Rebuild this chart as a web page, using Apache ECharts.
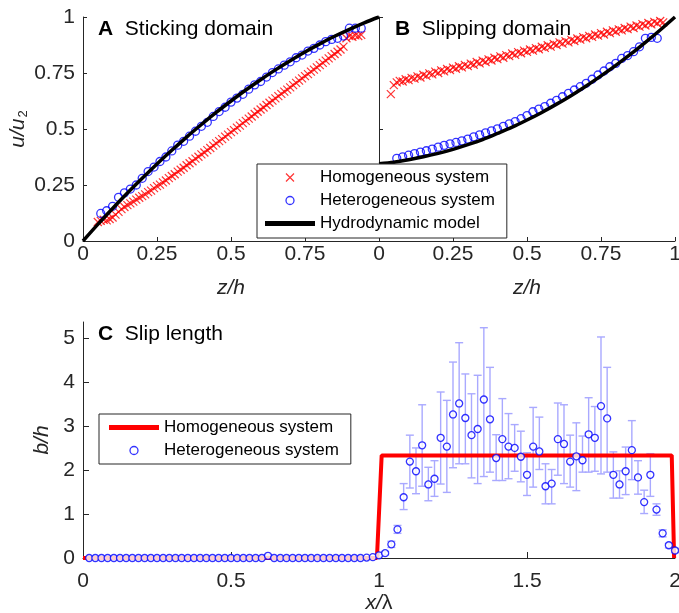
<!DOCTYPE html>
<html><head><meta charset="utf-8">
<script src="https://cdn.jsdelivr.net/npm/echarts@6/dist/echarts.min.js"></script>
<style>html,body{margin:0;padding:0;background:#fff}#c{width:679px;height:613px}</style>
</head><body><div id="c"></div>
<script>
// ---------- Panels A & B : velocity profiles ----------
const zHydro = [0,0.05,0.10,0.15,0.20,0.25,0.30,0.35,0.40,0.45,0.50,0.55,0.60,0.65,0.70,0.75,0.80,0.85,0.90,0.95,1.00];
const uHydroA = [0,0.074,0.145,0.214,0.28,0.344,0.405,0.464,0.52,0.574,0.625,0.674,0.72,0.764,0.805,0.844,0.88,0.914,0.945,0.974,1];
const uHydroB = [0.345,0.352,0.363,0.376,0.391,0.409,0.43,0.453,0.48,0.508,0.54,0.574,0.611,0.65,0.692,0.737,0.784,0.834,0.887,0.942,1];

const zHomA = [0.05,0.06,0.07,0.08,0.09,0.10,0.11,0.12,0.13,0.14,0.15,0.16,0.17,0.18,0.19,0.20,0.21,0.22,0.23,0.24,0.25,0.26,0.27,0.28,0.29,0.30,0.31,0.32,0.33,0.34,0.35,0.36,0.37,0.38,0.39,0.40,0.41,0.42,0.43,0.44,0.45,0.46,0.47,0.48,0.49,0.50,0.51,0.52,0.53,0.54,0.55,0.56,0.57,0.58,0.59,0.60,0.61,0.62,0.63,0.64,0.65,0.66,0.67,0.68,0.69,0.70,0.71,0.72,0.73,0.74,0.75,0.76,0.77,0.78,0.79,0.80,0.81,0.82,0.83,0.84,0.85,0.86,0.87,0.88,0.89,0.90,0.91,0.92,0.93,0.94];
const uHomA = [0.085,0.09,0.095,0.092,0.098,0.105,0.118,0.13,0.142,0.152,
  0.16,0.168,0.176,0.185,0.193,0.20,0.208,0.218,0.225,0.236,
  0.245,0.252,0.262,0.27,0.281,0.29,0.298,0.31,0.318,0.327,
  0.338,0.347,0.356,0.368,0.376,0.387,0.395,0.406,0.415,0.426,
  0.436,0.446,0.455,0.466,0.475,0.486,0.495,0.506,0.515,0.526,
  0.536,0.546,0.556,0.567,0.577,0.587,0.596,0.607,0.617,0.627,
  0.637,0.647,0.657,0.667,0.676,0.686,0.696,0.706,0.716,0.726,
  0.736,0.745,0.756,0.765,0.775,0.785,0.795,0.805,0.815,0.825,
  0.835,0.845,0.855,0.868,0.905,0.915,0.912,0.918,0.915,0.92];

const zHomB = [0.04,0.05,0.06,0.07,0.08,0.09,0.10,0.11,0.12,0.13,0.14,0.15,0.16,0.17,0.18,0.19,0.20,0.21,0.22,0.23,0.24,0.25,0.26,0.27,0.28,0.29,0.30,0.31,0.32,0.33,0.34,0.35,0.36,0.37,0.38,0.39,0.40,0.41,0.42,0.43,0.44,0.45,0.46,0.47,0.48,0.49,0.50,0.51,0.52,0.53,0.54,0.55,0.56,0.57,0.58,0.59,0.60,0.61,0.62,0.63,0.64,0.65,0.66,0.67,0.68,0.69,0.70,0.71,0.72,0.73,0.74,0.75,0.76,0.77,0.78,0.79,0.80,0.81,0.82,0.83,0.84,0.85,0.86,0.87,0.88,0.89,0.90,0.91,0.92,0.93,0.94,0.95,0.96];
const uHomB = [0.656,0.696,
  0.708,0.715,0.712,0.722,0.718,0.728,0.725,0.735,0.73,0.742,
  0.737,0.748,0.744,0.756,0.75,0.762,0.757,0.768,0.763,0.774,
  0.769,0.78,0.775,0.786,0.781,0.792,0.787,0.799,0.793,0.805,
  0.799,0.811,0.806,0.818,0.812,0.824,0.818,0.83,0.825,0.837,
  0.831,0.843,0.838,0.85,0.844,0.855,0.85,0.861,0.856,0.867,
  0.862,0.874,0.868,0.88,0.875,0.887,0.881,0.892,0.887,0.898,
  0.893,0.904,0.899,0.91,0.905,0.916,0.911,0.922,0.917,0.928,
  0.922,0.934,0.928,0.94,0.934,0.945,0.94,0.951,0.946,0.957,
  0.951,0.962,0.957,0.968,0.962,0.973,0.967,0.978,0.972,0.982,
  0.976];

const zHet = [0.06,0.08,0.10,0.12,0.14,0.16,0.18,0.20,0.22,0.24,0.26,0.28,0.30,0.32,0.34,0.36,0.38,0.40,0.42,0.44,0.46,0.48,0.50,0.52,0.54,0.56,0.58,0.60,0.62,0.64,0.66,0.68,0.70,0.72,0.74,0.76,0.78,0.80,0.82,0.84,0.86,0.88,0.90,0.92,0.94];
const uHetA = [0.123,0.135,0.155,0.195,0.215,0.232,0.25,0.28,0.31,0.33,0.355,0.375,0.402,0.428,0.445,0.468,0.49,0.512,0.53,0.556,0.578,0.597,0.62,0.638,0.655,0.678,0.697,0.712,0.732,0.752,0.768,0.785,0.8,0.818,0.83,0.848,0.86,0.875,0.89,0.9,0.905,0.915,0.95,0.95,0.95];
const uHetB = [0.369,0.376,0.383,0.39,0.397,0.403,0.41,0.419,0.427,0.434,0.44,0.447,0.455,0.465,0.474,0.483,0.492,0.501,0.512,0.523,0.533,0.546,0.56,0.577,0.589,0.60,0.615,0.628,0.644,0.659,0.674,0.689,0.704,0.722,0.741,0.759,0.778,0.793,0.815,0.828,0.845,0.867,0.905,0.909,0.905];

// ---------- Panel C : slip length ----------
const xHomC = [0,0.993,1.009,1.989,1.997];
const bHomC = [0,0,2.33,2.33,0];
const xC = [0.0208,0.0417,0.0625,0.0833,0.1042,0.125,0.1458,0.1667,0.1875,0.2083,0.2292,0.25,0.2708,0.2917,0.3125,0.3333,0.3542,0.375,0.3958,0.4167,0.4375,0.4583,0.4792,0.5,
  0.5208,0.5417,0.5625,0.5833,0.6042,0.625,0.6458,0.6667,0.6875,0.7083,0.7292,0.75,0.7708,0.7917,0.8125,0.8333,0.8542,0.875,0.8958,0.9167,0.9375,0.9583,0.9792,1,
  1.0208,1.0417,1.0625,1.0833,1.1042,1.125,1.1458,1.1667,1.1875,1.2083,1.2292,1.25,1.2708,1.2917,1.3125,1.3333,1.3542,1.375,1.3958,1.4167,1.4375,1.4583,1.4792,1.5,
  1.5208,1.5417,1.5625,1.5833,1.6042,1.625,1.6458,1.6667,1.6875,1.7083,1.7292,1.75,1.7708,1.7917,1.8125,1.8333,1.8542,1.875,1.8958,1.9167,1.9375,1.9583,1.9792,2];
const bC = [0,0,0,0,0,0,0,0,0,0,0,0,0,0,0,0,0,0,0,0,0,0,0,0,
  0,0,0,0,0,0.05,0,0,0,0,0,0,0,0,0,0,0,0,0,0,0,0.01,0.02,0.06,
  0.11,0.31,0.65,1.38,2.19,1.97,2.56,1.67,1.80,2.73,2.53,3.26,3.51,3.18,2.79,2.93,3.60,3.15,2.27,2.70,2.53,2.50,2.30,1.89,
  2.53,2.42,1.63,1.69,2.70,2.59,2.19,2.31,2.22,2.81,2.73,3.45,3.17,1.89,1.67,1.97,2.45,1.83,1.27,1.89,1.10,0.56,0.29,0.17];
const bLoC = [0,0,0,0,0,0,0,0,0,0,0,0,0,0,0,0,0,0,0,0,0,0,0,0,
  0,0,0,0,0,0.03,0,0,0,0,0,0,0,0,0,0,0,0,0,0,0,0,0.01,0.03,
  0.07,0.24,0.56,1.10,1.59,1.46,1.63,1.30,1.40,1.68,1.49,2.05,2.14,2.14,1.82,1.69,1.85,1.95,1.76,1.76,1.80,1.97,1.73,1.42,
  1.61,2.01,1.23,1.23,1.88,1.69,1.61,1.53,1.95,1.95,1.97,1.91,1.95,1.36,1.36,1.44,1.78,1.45,1.01,1.40,0.97,0.48,0.23,0.12];
const bHiC = [0,0,0,0,0,0,0,0,0,0,0,0,0,0,0,0,0,0,0,0,0,0,0,0,
  0,0,0,0,0,0.07,0,0,0,0,0,0,0,0,0,0,0,0,0,0,0,0.02,0.03,0.09,
  0.15,0.38,0.74,1.69,2.79,2.50,3.48,2.06,2.21,3.77,3.58,4.45,4.89,4.18,3.73,4.15,5.23,4.33,2.80,3.62,3.28,3.03,2.88,2.39,
  3.42,3.20,2.14,2.01,3.52,3.48,2.79,3.07,2.77,3.64,3.44,5.02,4.33,2.41,1.98,2.52,3.12,2.21,1.54,2.37,1.23,0.64,0.33,0.22];

const ticksX_AB = [0,0.25,0.5,0.75,1];
const labelsX_A = [0,0.25,0.5,0.75];
const ticksY_A = [0,0.25,0.5,0.75,1];
const ticksY_B = [0,0.5,1];
const ticksX_C = [0,0.5,1,1.5,2];
const ticksY_C = [0,1,2,3,4,5];

// ---------- styling ----------
const FONT = "'Liberation Sans', Arial, sans-serif";
const AX = '#262626';
const pairs = (xs, ys) => xs.map((x, i) => [x, ys[i]]);
const XMARK = 'path://M0,0L10,10M10,0L0,10';
const BAR = 'path://M0,0H10V1H0Z';

function axis(extra, tickLen) {
  return Object.assign({
    type: 'value',
    axisLine: {show: true, onZero: false, lineStyle: {color: AX, width: 1}},
    axisTick: {show: true, inside: true, length: tickLen, lineStyle: {color: AX, width: 1}},
    splitLine: {show: false},
    axisLabel: {color: AX, fontSize: 21, fontFamily: FONT},
    nameTextStyle: {color: AX, fontSize: 21, fontFamily: FONT, fontStyle: 'italic'},
    nameLocation: 'middle'
  }, extra);
}
function merge(base, k, v) { base[k] = Object.assign({}, base[k], v); return base; }

const xA = axis({gridIndex: 0, min: 0, max: 1, interval: 0.25, name: 'z/h', nameGap: 37}, 4);
merge(xA, 'axisLabel', {margin: 3, customValues: labelsX_A});
merge(xA, 'axisTick', {customValues: ticksX_AB});
const xB = axis({gridIndex: 1, min: 0, max: 1, interval: 0.25, name: 'z/h', nameGap: 37}, 4);
merge(xB, 'axisLabel', {margin: 3, customValues: ticksX_AB});
merge(xB, 'axisTick', {customValues: ticksX_AB});
const xCax = axis({gridIndex: 2, min: 0, max: 2, interval: 0.5, name: '{i|x/}{n|λ}', nameGap: 35}, 6);
merge(xCax, 'axisLabel', {margin: 13, customValues: ticksX_C});
merge(xCax, 'axisTick', {customValues: ticksX_C});
merge(xCax, 'nameTextStyle', {rich: {i: {fontSize: 21, fontStyle: 'italic', fontFamily: FONT, color: AX}, n: {fontSize: 21, fontStyle: 'normal', fontFamily: FONT, color: AX}}});

const yA = axis({gridIndex: 0, min: 0, max: 1, interval: 0.25, name: '{i|u/u}{s|2}', nameGap: 52, nameRotate: 90}, 4);
merge(yA, 'axisLabel', {margin: 8, customValues: ticksY_A});
merge(yA, 'axisTick', {customValues: ticksY_A});
merge(yA, 'nameTextStyle', {rich: {i: {fontSize: 21, fontStyle: 'italic', fontFamily: FONT, color: AX}, s: {fontSize: 13, fontStyle: 'normal', fontFamily: FONT, color: AX, padding: [12, 0, 0, 1]}}});
const yB = axis({gridIndex: 1, min: 0, max: 1, interval: 0.5}, 4);
merge(yB, 'axisLabel', {show: false});
merge(yB, 'axisTick', {customValues: ticksY_B});
const yC = axis({gridIndex: 2, min: 0, max: 5.36, interval: 1, name: 'b/h', nameGap: 26, nameRotate: 90}, 6);
merge(yC, 'axisLabel', {margin: 8, customValues: ticksY_C});
merge(yC, 'axisTick', {customValues: ticksY_C});

function titleOf(letter, text, left, top) {
  return {
    text: '{b|' + letter + '}  {n|' + text + '}', left: left, top: top, padding: 0,
    textStyle: {fontSize: 21, fontWeight: 'normal', fontFamily: FONT, color: '#000',
      rich: {b: {fontSize: 21, fontWeight: 'bold', fontFamily: FONT, color: '#000'},
             n: {fontSize: 21, fontWeight: 'normal', fontFamily: FONT, color: '#000'}}}
  };
}

const legendBase = {
  orient: 'vertical', selectedMode: false, itemWidth: 50, itemHeight: 8, itemGap: 6,
  textStyle: {fontSize: 17, fontFamily: FONT, color: '#000'},
  borderColor: AX, borderWidth: 1, backgroundColor: '#fff', borderRadius: 0, z: 20
};

const option = {
  animation: false,
  backgroundColor: '#fff',
  grid: [
    {left: 83, top: 17, width: 296, height: 224, containLabel: false, outerBoundsMode: 'none'},
    {left: 379, top: 17, width: 296, height: 224, containLabel: false, outerBoundsMode: 'none'},
    {left: 83, top: 322, width: 592, height: 236, containLabel: false, outerBoundsMode: 'none'}
  ],
  title: [
    titleOf('A', 'Sticking domain', 98, 19),
    titleOf('B', 'Slipping domain', 395, 19),
    titleOf('C', 'Slip length', 98, 324)
  ],
  legend: [
    Object.assign({}, legendBase, {
      left: 257, top: 164, padding: [5, 12, 6, 8],
      lineStyle: {width: 3.5},
      data: [
        {name: 'Homogeneous system', itemStyle: {borderWidth: 1.2}},
        {name: 'Heterogeneous system', itemStyle: {borderWidth: 1.3}},
        {name: 'Hydrodynamic model', icon: BAR}
      ]
    }),
    Object.assign({}, legendBase, {
      left: 99, top: 414, padding: [5, 12, 5, 10],
      lineStyle: {width: 4},
      formatter: n => n.replace(' (C)', ''),
      data: [
        {name: 'Homogeneous system (C)', icon: BAR},
        {name: 'Heterogeneous system (C)', itemStyle: {borderWidth: 1.3}}
      ]
    })
  ],
  xAxis: [xA, xB, xCax],
  yAxis: [yA, yB, yC],
  series: [
    // Panel A
    {name: 'Homogeneous system', type: 'scatter', xAxisIndex: 0, yAxisIndex: 0, data: pairs(zHomA, uHomA),
     symbol: XMARK, symbolSize: 8, itemStyle: {color: 'transparent', borderColor: '#ff0000', borderWidth: 1.2}, z: 2, silent: true},
    {name: 'Heterogeneous system', type: 'scatter', xAxisIndex: 0, yAxisIndex: 0, data: pairs(zHet, uHetA),
     symbol: 'circle', symbolSize: 8, itemStyle: {color: 'transparent', borderColor: '#0000ff', borderWidth: 1.3}, z: 3, silent: true},
    {name: 'Hydrodynamic model', type: 'line', xAxisIndex: 0, yAxisIndex: 0, data: pairs(zHydro, uHydroA),
     symbol: 'none', smooth: 0.3, lineStyle: {color: '#000', width: 3.5}, itemStyle: {color: '#000'}, z: 4, silent: true},
    // Panel B
    {name: 'Homogeneous system', type: 'scatter', xAxisIndex: 1, yAxisIndex: 1, data: pairs(zHomB, uHomB),
     symbol: XMARK, symbolSize: 8, itemStyle: {color: 'transparent', borderColor: '#ff0000', borderWidth: 1.2}, z: 2, silent: true},
    {name: 'Heterogeneous system', type: 'scatter', xAxisIndex: 1, yAxisIndex: 1, data: pairs(zHet, uHetB),
     symbol: 'circle', symbolSize: 8, itemStyle: {color: 'transparent', borderColor: '#0000ff', borderWidth: 1.3}, z: 3, silent: true},
    {name: 'Hydrodynamic model', type: 'line', xAxisIndex: 1, yAxisIndex: 1, data: pairs(zHydro, uHydroB),
     symbol: 'none', smooth: 0.3, lineStyle: {color: '#000', width: 3.5}, itemStyle: {color: '#000'}, z: 4, silent: true},
    // Panel C
    {type: 'custom', xAxisIndex: 2, yAxisIndex: 2, z: 1, silent: true,
     data: xC.map((x, i) => [x, bLoC[i], bHiC[i]]),
     encode: {x: 0, y: [1, 2]},
     renderItem: function (params, api) {
       const x = api.value(0);
       const lo = api.coord([x, api.value(1)]);
       const hi = api.coord([x, api.value(2)]);
       const w = 4;
       const st = {stroke: '#a9a9ff', lineWidth: 1.4};
       return {type: 'group', children: [
         {type: 'line', shape: {x1: lo[0], y1: lo[1], x2: hi[0], y2: hi[1]}, style: st},
         {type: 'line', shape: {x1: lo[0] - w, y1: lo[1], x2: lo[0] + w, y2: lo[1]}, style: st},
         {type: 'line', shape: {x1: hi[0] - w, y1: hi[1], x2: hi[0] + w, y2: hi[1]}, style: st}
       ]};
     }},
    {name: 'Homogeneous system (C)', type: 'line', xAxisIndex: 2, yAxisIndex: 2, data: pairs(xHomC, bHomC),
     symbol: 'none', lineStyle: {color: '#ff0000', width: 4}, itemStyle: {color: '#ff0000'}, z: 2, silent: true},
    {name: 'Heterogeneous system (C)', type: 'scatter', xAxisIndex: 2, yAxisIndex: 2, data: pairs(xC, bC),
     symbol: 'circle', symbolSize: 7, clip: false, itemStyle: {color: '#ffffff', borderColor: '#0000ff', borderWidth: 1.3}, z: 3, silent: true}
  ]
};

const chart = echarts.init(document.getElementById('c'), null, {renderer: 'canvas'});
chart.setOption(option);
</script>
</body></html>
